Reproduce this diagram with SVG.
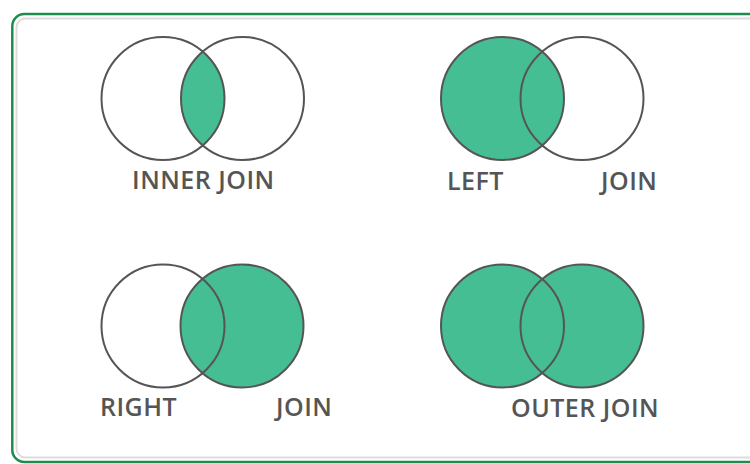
<svg xmlns="http://www.w3.org/2000/svg" width="750" height="464" viewBox="0 0 750 464">
<style>
.ring{fill:none;stroke:#555;stroke-width:2}
.fill{fill:#45be94}
.lbl{font-family:"Open Sans","Liberation Sans",sans-serif;font-weight:600;font-size:25px;letter-spacing:0.5px;fill:#555}
</style>
<defs>
<clipPath id="c1"><circle cx="163" cy="98.5" r="61.5"/></clipPath>
</defs>
<rect width="750" height="464" fill="#fff"/>
<g id="frame">
<rect x="12.3" y="14" width="760" height="448" rx="12" fill="none" stroke="#1e8c4e" stroke-width="2.5"/>
<rect x="16.5" y="18.5" width="760" height="439" rx="9" fill="none" stroke="#dcdcdc" stroke-width="2"/>
</g>
<g id="inner-join">
<circle class="fill" cx="242.5" cy="98.5" r="61.5" clip-path="url(#c1)"/>
<circle class="ring" cx="163" cy="98.5" r="61.5"/>
<circle class="ring" cx="242.5" cy="98.5" r="61.5"/>
<text class="lbl" x="132" y="189">INNER JOIN</text>
</g>
<g id="left-join">
<circle class="fill" cx="502.5" cy="98.5" r="61.5"/>
<circle class="ring" cx="502.5" cy="98.5" r="61.5"/>
<circle class="ring" cx="582" cy="98.5" r="61.5"/>
<text class="lbl" x="447" y="190">LEFT</text>
<text class="lbl" x="601" y="190">JOIN</text>
</g>
<g id="right-join">
<circle class="fill" cx="242" cy="326" r="61.5"/>
<circle class="ring" cx="163" cy="326" r="61.5"/>
<circle class="ring" cx="242" cy="326" r="61.5"/>
<text class="lbl" x="100" y="416">RIGHT</text>
<text class="lbl" x="276" y="416">JOIN</text>
</g>
<g id="outer-join">
<circle class="fill" cx="502.5" cy="326" r="61.5"/>
<circle class="fill" cx="582" cy="326" r="61.5"/>
<circle class="ring" cx="502.5" cy="326" r="61.5"/>
<circle class="ring" cx="582" cy="326" r="61.5"/>
<text class="lbl" x="511" y="417">OUTER JOIN</text>
</g>
<g id="connectors"/>
</svg>
